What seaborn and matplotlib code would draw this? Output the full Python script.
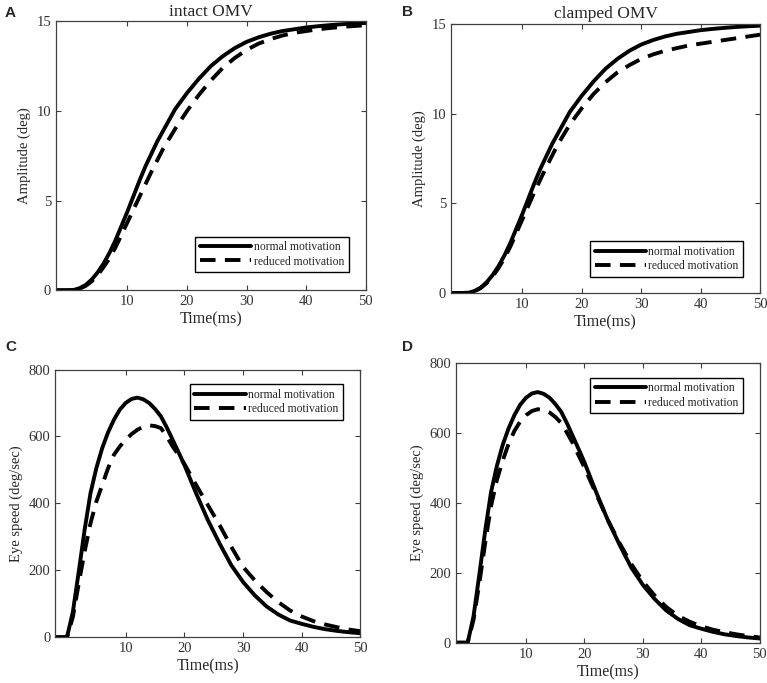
# %%
import numpy as np
import pandas as pd
import seaborn as sns
import matplotlib.pyplot as plt

# %%
# values (time in ms)
t = [-2, -1, 0, 1, 2, 3, 4, 5, 6, 7, 8, 9, 10, 11, 12, 13, 14, 15, 16, 17, 18, 19, 20,
     22, 24, 26, 28, 30, 32, 34, 36, 38, 40, 42, 44, 46, 48, 50]

# amplitude (deg)
amp_normal = [0, 0, 0, 0.02, 0.12, 0.3, 0.6, 1.0, 1.5, 2.1, 2.8, 3.6, 4.4, 5.25, 6.1,
              6.9, 7.6, 8.3, 8.9, 9.5, 10.1, 10.55, 11.0,
              11.8, 12.5, 13.05, 13.5, 13.85, 14.1, 14.3, 14.45, 14.55, 14.65,
              14.72, 14.78, 14.83, 14.87, 14.9]
amp_reduced_intact = [0, 0, 0, 0.02, 0.09, 0.25, 0.5, 0.85, 1.3, 1.8, 2.4, 3.1, 3.8,
                      4.5, 5.2, 5.9, 6.6, 7.25, 7.9, 8.45, 9.0, 9.5, 10.0,
                      10.9, 11.7, 12.4, 12.95, 13.4, 13.75, 14.0, 14.2, 14.35, 14.45,
                      14.55, 14.62, 14.68, 14.73, 14.77]
amp_reduced_clamped = [0, 0, 0, 0.02, 0.1, 0.28, 0.55, 0.92, 1.4, 1.95, 2.6, 3.35, 4.1,
                       4.85, 5.6, 6.3, 7.0, 7.65, 8.3, 8.85, 9.4, 9.85, 10.3,
                       11.1, 11.75, 12.3, 12.7, 13.05, 13.3, 13.5, 13.65, 13.8, 13.9,
                       14.0, 14.1, 14.2, 14.3, 14.4]

# eye speed (deg/sec)
vel_normal = [0, 0, 0, 75, 195, 320, 430, 505, 565, 612, 650, 680, 700, 712, 716, 711,
              700, 682, 660, 627, 590, 553, 515,
              430, 350, 280, 215, 165, 125, 92, 68, 50, 40, 31, 24, 19, 15, 12]
vel_reduced_intact = [0, 0, 0, 60, 160, 255, 340, 405, 455, 505, 545, 570, 590, 607, 620,
                      629, 633, 631, 625, 600, 570, 545, 518,
                      455, 395, 335, 270, 210, 170, 135, 105, 80, 62, 48, 38, 30, 23, 18]
vel_reduced_clamped = [0, 0, 0, 65, 170, 285, 390, 465, 520, 568, 605, 632, 650, 662, 667,
                       665, 658, 645, 628, 600, 570, 535, 500,
                       425, 350, 285, 225, 175, 135, 102, 77, 60, 47, 37, 30, 24, 19, 15]

labels = ['normal motivation', 'reduced motivation']
titles = ['intact OMV', 'clamped OMV']

# %%
sns.set_theme(style="ticks")
plt.rcParams['font.family'] = ['Liberation Serif', 'DejaVu Serif']
plt.rcParams['xtick.direction'] = 'in'
plt.rcParams['ytick.direction'] = 'in'
plt.rcParams['xtick.top'] = True
plt.rcParams['ytick.right'] = True
plt.rcParams['lines.dashed_pattern'] = [4.0, 2.4]

fig = plt.figure(figsize=(7.67, 6.83), dpi=100)
axA = fig.add_axes([0.073, 0.575, 0.404, 0.394])
axB = fig.add_axes([0.588, 0.571, 0.403, 0.394])
axC = fig.add_axes([0.072, 0.067, 0.398, 0.392])
axD = fig.add_axes([0.5945, 0.059, 0.396, 0.41])

panels = [
    (axA, amp_normal, amp_reduced_intact, 'Amplitude (deg)', [0, 5, 10, 15], 15, 'lower right', (0.945, 0.067)),
    (axB, amp_normal, amp_reduced_clamped, 'Amplitude (deg)', [0, 5, 10, 15], 15, 'lower right', (0.946, 0.06)),
    (axC, vel_normal, vel_reduced_intact, 'Eye speed (deg/sec)', [0, 200, 400, 600, 800], 800, 'upper right', (0.943, 0.944)),
    (axD, vel_normal, vel_reduced_clamped, 'Eye speed (deg/sec)', [0, 200, 400, 600, 800], 800, 'upper right', (0.946, 0.946)),
]

for ax, y1, y2, ylab, yt, ymax, loc, anchor in panels:
    sns.lineplot(x=t, y=y1, ax=ax, color='black', lw=2.8, label=labels[0])
    sns.lineplot(x=t, y=y2, ax=ax, color='black', lw=2.8, linestyle='--', label=labels[1])
    ax.set_xlim(-2, 50)
    ax.set_ylim(0, ymax)
    ax.set_xticks([10, 20, 30, 40, 50])
    ax.set_yticks(yt)
    ax.set_xlabel('Time(ms)', fontsize=11.5, labelpad=2.5, color='#262626')
    ax.set_ylabel(ylab, fontsize=10.5, labelpad=4, color='#262626')
    ax.tick_params(labelsize=10.5, length=3.5, width=0.8, colors='#404040', labelcolor='#333333')
    for s in ax.spines.values():
        s.set_visible(True)
        s.set_color('#404040')
        s.set_linewidth(0.9)
    leg = ax.legend(loc=loc, bbox_to_anchor=anchor, borderaxespad=0, fancybox=False,
                    edgecolor='black', framealpha=1, fontsize=8.4, handlelength=4.4,
                    handletextpad=0.2, labelspacing=0.2, borderpad=0.4)
    leg.get_frame().set_linewidth(1.0)

axA.set_title(titles[0], fontsize=12.5, pad=4)
axB.set_title(titles[1], fontsize=12.5, pad=4)

for x, y, s in [(0.0065, 0.981, 'A'), (0.524, 0.982, 'B'), (0.0065, 0.492, 'C'), (0.524, 0.492, 'D')]:
    fig.text(x, y, s, family='Liberation Sans', weight='bold', fontsize=11, va='center', ha='left')

fig.savefig('out.png', dpi=100)
